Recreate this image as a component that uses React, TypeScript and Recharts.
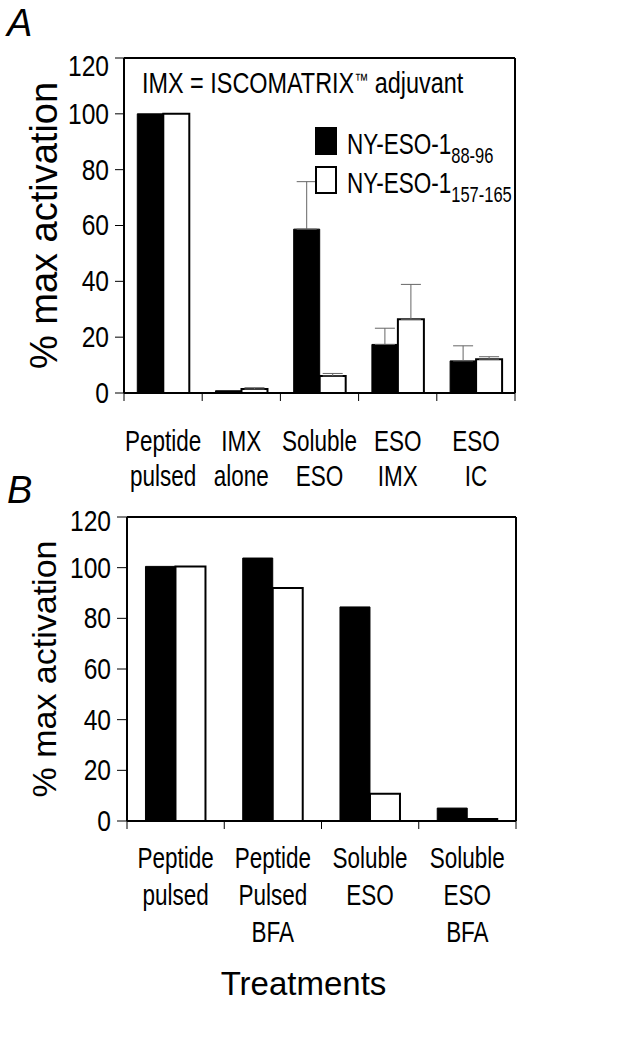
import React from 'react';
import { BarChart, Bar, XAxis, YAxis, ErrorBar, Legend, ReferenceLine } from 'recharts';

const SANS = '"Liberation Sans", Arial, sans-serif';
// the figure uses a condensed face; squeeze the regular one horizontally
const SQUEEZE = 0.82;
const LABEL_SQUEEZE = 0.75;

// panel A
const treatmentsA = ['Peptide\npulsed', 'IMX\nalone', 'Soluble\nESO', 'ESO\nIMX', 'ESO\nIC'];
const eso88A = [100, 0.8, 58.7, 17.4, 11.5];
const eso157A = [100, 1.4, 6.1, 26.4, 12.1];
const err88A = [null, null, 17, 5.8, 5.4];
const err157A = [null, 0.5, 0.9, 12.5, 0.9];

// panel B
const treatmentsB = ['Peptide\npulsed', 'Peptide\nPulsed\nBFA', 'Soluble\nESO', 'Soluble\nESO\nBFA'];
const eso88B = [100.5, 103.8, 84.5, 5.1];
const eso157B = [100.5, 92, 10.8, 0.8];

const yTicks = [0, 20, 40, 60, 80, 100, 120];
const epitopes = ['88-96', '157-165'];
const seriesColors = ['#000', '#fff'];

const dataA = treatmentsA.map((name, i) => ({
  name,
  e88: eso88A[i],
  e157: eso157A[i],
  err88: err88A[i] == null ? null : [0, err88A[i]],
  err157: err157A[i] == null ? null : [0, err157A[i]],
}));

const dataB = treatmentsB.map((name, i) => ({
  name,
  e88: eso88B[i],
  e157: eso157B[i],
}));

const squeezeAt = (x: number, s: number) => `translate(${x},0) scale(${s},1) translate(${-x},0)`;

const CategoryTick = (props: any) => {
  const { x, y, payload, index, count, band, firstDy, lineH } = props;
  const half = payload.offset || band / 2;
  const lines = String(payload.value).split('\n');
  return (
    <g>
      <line x1={x - half} x2={x - half} y1={y} y2={y + 8} stroke="#000" strokeWidth={1} />
      {index === count - 1 && (
        <line x1={x + half} x2={x + half} y1={y} y2={y + 8} stroke="#000" strokeWidth={1} />
      )}
      <text
        x={x}
        y={y + firstDy}
        transform={squeezeAt(x, LABEL_SQUEEZE)}
        textAnchor="middle"
        fontFamily={SANS}
        fontSize={30}
        fill="#000"
      >
        {lines.map((l, i) => (
          <tspan key={i} x={x} dy={i === 0 ? 0 : lineH}>
            {l}
          </tspan>
        ))}
      </text>
    </g>
  );
};

const ValueTick = (props: any) => {
  const { x, y, payload, topShift } = props;
  const shift = payload.value === yTicks[yTicks.length - 1] ? topShift : 0;
  return (
    <text
      x={x}
      y={y}
      dy={10 + shift}
      transform={squeezeAt(x, SQUEEZE)}
      textAnchor="end"
      fontFamily={SANS}
      fontSize={30}
      fill="#000"
    >
      {payload.value}
    </text>
  );
};

const YTitle = (props: any) => {
  const { viewBox, size, dx } = props;
  const cx = viewBox.x + dx;
  const cy = viewBox.y + viewBox.height / 2;
  return (
    <text
      x={cx}
      y={cy}
      transform={`rotate(-90, ${cx}, ${cy})`}
      textAnchor="middle"
      dominantBaseline="central"
      fontFamily={SANS}
      fontSize={size}
      fill="#000"
    >
      % max activation
    </text>
  );
};

const XTitle = (props: any) => {
  const { viewBox } = props;
  return (
    <text
      x={viewBox.x + viewBox.width / 2 - 18}
      y={viewBox.y + 174}
      textAnchor="middle"
      fontFamily={SANS}
      fontSize={33}
      fill="#000"
    >
      Treatments
    </text>
  );
};

const SeriesLegend = () => (
  <div style={{ fontFamily: SANS, color: '#000', width: 220 }}>
    {epitopes.map((ep, i) => (
      <div key={ep} style={{ position: 'relative', height: 39 }}>
        <div
          style={{
            position: 'absolute',
            left: 0,
            top: 0,
            width: 22,
            height: 28,
            boxSizing: 'border-box',
            background: seriesColors[i],
            border: '2px solid #000',
          }}
        />
        <div
          style={{
            position: 'absolute',
            left: 32,
            top: 2,
            fontSize: 30,
            lineHeight: '30px',
            whiteSpace: 'nowrap',
            transform: `scaleX(${LABEL_SQUEEZE})`,
            transformOrigin: 'left top',
          }}
        >
          NY-ESO-1<span style={{ fontSize: 22, position: 'relative', top: 9 }}>{ep}</span>
        </div>
      </div>
    ))}
  </div>
);

const frameLine = { stroke: '#000', strokeWidth: 2 };

const PanelLetter = ({ letter, top }: { letter: string; top: number }) => (
  <div
    style={{
      position: 'absolute',
      left: 7,
      top,
      fontFamily: SANS,
      fontStyle: 'italic',
      fontSize: 38,
      lineHeight: '38px',
      color: '#000',
    }}
  >
    {letter}
  </div>
);

export default function App() {
  const plotWA = 633 - 118 - 124;
  const plotWB = 633 - 117 - 127;
  return (
    <div style={{ position: 'absolute', left: 0, top: 0, width: 633, height: 1059, background: '#fff' }}>
      <div style={{ position: 'absolute', left: 0, top: 0 }}>
        <BarChart
          width={633}
          height={500}
          data={dataA}
          margin={{ top: 58, right: 118, left: 0, bottom: 0 }}
          barCategoryGap="17%"
          barGap={0}
        >
          <XAxis
            dataKey="name"
            interval={0}
            height={107}
            axisLine={frameLine}
            tickLine={false}
            tickSize={0}
            tickMargin={0}
            tick={<CategoryTick count={treatmentsA.length} band={plotWA / treatmentsA.length} firstDy={58} lineH={35} />}
          />
          <YAxis
            domain={[0, 120]}
            ticks={yTicks}
            width={124}
            tickSize={9}
            tickMargin={6}
            axisLine={frameLine}
            tickLine={{ stroke: '#000' }}
            tick={<ValueTick topShift={8} />}
            label={<YTitle size={38} dx={44} />}
          />
          <ReferenceLine y={120} {...frameLine} />
          <ReferenceLine x={treatmentsA[treatmentsA.length - 1]} position="end" {...frameLine} />
          <Legend
            layout="vertical"
            verticalAlign="middle"
            align="center"
            content={<SeriesLegend />}
            wrapperStyle={{ position: 'absolute', left: 315, top: 127, width: 220, height: 80 }}
          />
          <Bar dataKey="e88" fill="#000" stroke="#000" strokeWidth={1} isAnimationActive={false}>
            <ErrorBar dataKey="err88" width={10} stroke="#666" strokeWidth={1} isAnimationActive={false} />
          </Bar>
          <Bar dataKey="e157" fill="#fff" stroke="#000" strokeWidth={2} isAnimationActive={false}>
            <ErrorBar dataKey="err157" width={10} stroke="#666" strokeWidth={1} isAnimationActive={false} />
          </Bar>
        </BarChart>
        <div
          style={{
            position: 'absolute',
            left: 142,
            top: 68,
            fontFamily: SANS,
            fontSize: 30,
            lineHeight: '30px',
            whiteSpace: 'nowrap',
            color: '#000',
            transform: 'scaleX(0.78)',
            transformOrigin: 'left top',
          }}
        >
          IMX = ISCOMATRIX<span style={{ fontSize: 18, position: 'relative', top: -7 }}>™</span> adjuvant
        </div>
        <PanelLetter letter="A" top={4} />
      </div>

      <div style={{ position: 'absolute', left: 0, top: 460 }}>
        <BarChart
          width={633}
          height={599}
          data={dataB}
          margin={{ top: 57, right: 117, left: 0, bottom: 0 }}
          barCategoryGap="19%"
          barGap={0}
        >
          <XAxis
            dataKey="name"
            interval={0}
            height={238}
            axisLine={frameLine}
            tickLine={false}
            tickSize={0}
            tickMargin={0}
            tick={<CategoryTick count={treatmentsB.length} band={plotWB / treatmentsB.length} firstDy={47} lineH={37} />}
            label={<XTitle />}
          />
          <YAxis
            domain={[0, 120]}
            ticks={yTicks}
            width={127}
            tickSize={10}
            tickMargin={6}
            axisLine={frameLine}
            tickLine={{ stroke: '#000' }}
            tick={<ValueTick topShift={4} />}
            label={<YTitle size={34} dx={44} />}
          />
          <ReferenceLine y={120} {...frameLine} />
          <ReferenceLine x={treatmentsB[treatmentsB.length - 1]} position="end" {...frameLine} />
          <Bar dataKey="e88" fill="#000" stroke="#000" strokeWidth={1} isAnimationActive={false} />
          <Bar dataKey="e157" fill="#fff" stroke="#000" strokeWidth={2} isAnimationActive={false} />
        </BarChart>
        <PanelLetter letter="B" top={11} />
      </div>
    </div>
  );
}
